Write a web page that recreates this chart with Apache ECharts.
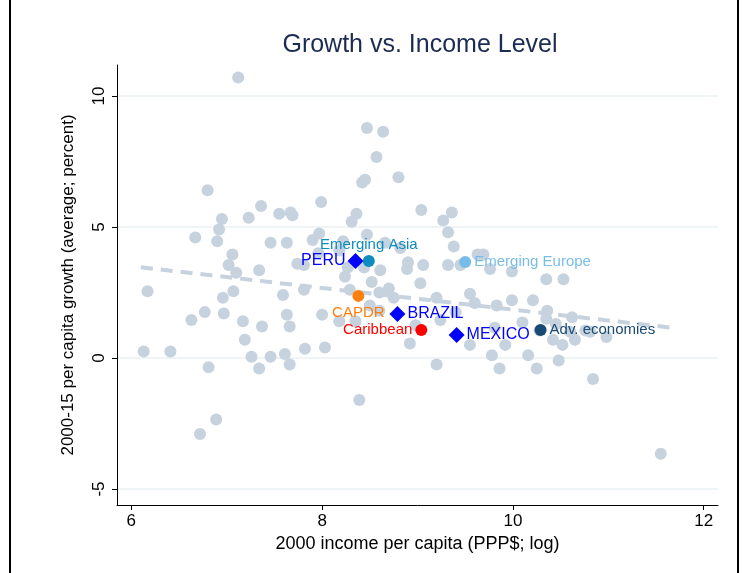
<!DOCTYPE html>
<html><head><meta charset="utf-8">
<script src="https://cdn.jsdelivr.net/npm/echarts@6/dist/echarts.min.js"></script>
<style>html,body{margin:0;background:#fff}#c{width:743px;height:573px}</style>
</head><body><div id="c"></div>
<script>
// countries: [log income 2000, avg per capita growth 2000-15]
const countries = [
  [7.12,10.7],[8.47,8.78],[8.64,8.63],[8.57,7.67],[8.42,6.7],[8.45,6.8],[8.8,6.9],[6.8,6.4],
  [7.36,5.8],[7.99,5.95],[6.95,5.3],[7.23,5.35],[7.55,5.5],[7.69,5.45],[7.67,5.55],[8.31,5.2],
  [8.36,5.5],[7.97,4.75],[9.04,5.65],[9.36,5.55],[9.27,5.25],[9.32,4.8],[6.67,4.6],[6.92,4.9],
  [6.9,4.45],[7.06,3.95],[7.02,3.55],[7.46,4.4],[7.63,4.4],[7.9,4.5],[7.96,4.0],[8.18,4.1],
  [8.22,4.45],[8.47,4.7],[8.66,4.4],[8.82,4.2],[9.38,4.25],[9.63,3.95],[9.69,3.95],[9.45,3.55],
  [9.99,3.3],[9.76,3.4],[10.35,3.0],[10.53,3.0],[7.1,3.25],[7.34,3.35],[7.74,3.6],[7.81,3.55],
  [8.27,3.45],[8.24,3.1],[8.44,3.45],[8.61,3.35],[8.89,3.4],[8.9,3.65],[9.06,3.55],[9.32,3.55],
  [6.17,2.55],[7.07,2.55],[6.96,2.3],[7.59,2.4],[7.81,2.6],[8.29,2.6],[8.7,2.65],[9.03,2.85],
  [9.2,2.3],[9.55,2.45],[9.83,2.0],[9.99,2.2],[10.21,2.2],[10.36,1.8],[10.62,1.55],[6.63,1.45],
  [6.77,1.75],[6.97,1.7],[7.17,1.4],[7.37,1.2],[7.63,1.65],[7.66,1.2],[8.0,1.65],[8.18,1.4],
  [8.35,1.4],[8.98,1.25],[9.24,1.45],[9.4,1.75],[9.81,1.15],[10.1,1.35],[10.28,1.05],[10.42,0.7],
  [10.6,1.0],[10.81,1.0],[10.98,0.8],[9.92,0.5],[6.13,0.25],[6.41,0.25],[7.19,0.7],[7.26,0.05],
  [7.34,-0.4],[7.46,0.05],[7.61,0.15],[7.66,-0.25],[7.82,0.35],[8.03,0.4],[6.81,-0.35],[9.2,-0.25],
  [9.55,0.5],[9.78,0.1],[9.86,-0.4],[10.16,0.1],[10.25,-0.4],[10.48,-0.1],[10.84,-0.8],[8.92,0.55],
  [8.39,-1.6],[6.89,-2.35],[6.72,-2.9],[11.55,-3.65],[10.65,0.7],[10.52,0.5],[10.76,1.05],
  [8.52,2.9],[8.6,2.5],[8.75,2.3],[8.5,2.0],[9.6,2.1],[10.45,1.3],[10.35,1.5],[8.6,1.8]
];
const fitLine = [[6.1,3.46],[11.7,1.14]];
const regions = [
  {name:'Emerging Asia', value:[8.49,3.7], color:'#0e8bbf', pos:'top'},
  {name:'Emerging Europe', value:[9.5,3.66], color:'#78bde8', pos:'right'},
  {name:'CAPDR', value:[8.38,2.37], color:'#ff7f0e', pos:'bottom'},
  {name:'Caribbean', value:[9.04,1.07], color:'#ff0000', pos:'left'},
  {name:'Adv. economies', value:[10.29,1.07], color:'#1a4a73', pos:'right'}
];
const highlighted = [
  {name:'PERU', value:[8.35,3.7], pos:'left'},
  {name:'BRAZIL', value:[8.79,1.68], pos:'right'},
  {name:'MEXICO', value:[9.41,0.88], pos:'right'}
];
const xTicks = [6,8,10,12];
const yTicks = [-5,0,5,10];

const chart = echarts.init(document.getElementById('c'));
const font = 'Liberation Sans, Arial, sans-serif';
chart.setOption({
  animation:false,
  textStyle:{fontFamily:font},
  title:{text:'Growth vs. Income Level', left:415, top:28, textAlign:'center',
    textStyle:{fontSize:25, fontWeight:'normal', color:'#1b2b52', fontFamily:font}},
  grid:{left:117, right:25, top:65, bottom:68},
  xAxis:{type:'value', min:5.85, max:12.15,
    name:'2000 income per capita (PPP$; log)', nameLocation:'middle', nameGap:30,
    nameTextStyle:{fontSize:18, color:'#000'},
    axisLine:{onZero:false, lineStyle:{color:'#000'}},
    axisTick:{customValues:xTicks, length:5, lineStyle:{color:'#000'}},
    axisLabel:{customValues:xTicks, fontSize:17, color:'#000', margin:8},
    splitLine:{show:false}},
  yAxis:{type:'value', min:-5.61, max:11.18,
    name:'2000-15 per capita growth (average; percent)', nameLocation:'middle', nameGap:40,
    nameTextStyle:{fontSize:17, color:'#000'},
    axisLine:{show:true, onZero:false, lineStyle:{color:'#000'}},
    axisTick:{show:true, customValues:yTicks, length:5, lineStyle:{color:'#000'}},
    axisLabel:{customValues:yTicks, fontSize:17, color:'#000', rotate:90, margin:9},
    splitLine:{show:true, lineStyle:{color:'#eaf0f5', width:1.5}}},
  graphic:[
    {type:'line', shape:{x1:10,y1:0,x2:10,y2:573}, style:{stroke:'#000', lineWidth:2}},
    {type:'line', shape:{x1:738,y1:0,x2:738,y2:573}, style:{stroke:'#000', lineWidth:2}}
  ],
  series:[
    {type:'scatter', data:countries, symbolSize:12, itemStyle:{color:'#c6d2de', opacity:1}, z:2},
    {type:'line', data:fitLine, symbol:'none', lineStyle:{color:'#c6d2de', width:4, type:[12,8]}, z:3},
    {type:'scatter', z:5, symbolSize:12,
      data:regions.map(r=>({value:r.value, itemStyle:{color:r.color, opacity:1},
        label:{show:true, formatter:r.name, position:r.pos, color:r.color, fontSize:15, distance:3}}))},
    {type:'scatter', z:6, symbol:'diamond', symbolSize:16, itemStyle:{color:'#0000ff', opacity:1},
      data:highlighted.map(r=>({value:r.value,
        label:{show:true, formatter:r.name, position:r.pos, color:'#0000ff', fontSize:16, distance:2}}))}
  ]
});
</script></body></html>
